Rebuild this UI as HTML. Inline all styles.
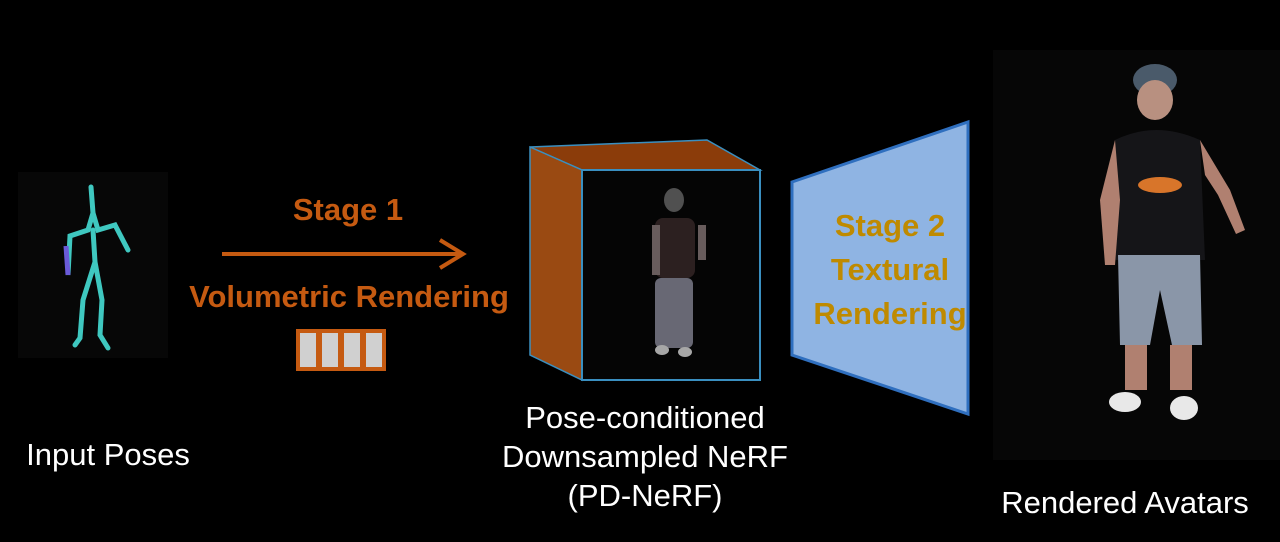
<!DOCTYPE html>
<html><head><style>
body{margin:0;width:1280px;height:542px;background:#000;overflow:hidden;position:relative;font-family:"Liberation Sans",sans-serif}
.t{position:absolute;color:#fff;font-size:31px;text-align:center;white-space:nowrap}
.o{position:absolute;color:#c55a11;font-weight:bold;font-size:31px;white-space:nowrap;text-align:center}
</style></head><body>
<svg width="1280" height="542" style="position:absolute;left:0;top:0">
<rect x="18" y="172" width="150" height="186" fill="#070707"/>
<g stroke="#3fc8c0" stroke-width="5" stroke-linecap="round" fill="none">
<path d="M91 187 L93 213 L88 230 L70 236 L68 275 L68 270"/>
<path d="M93 213 L98 230 L115 225 L128 250"/>
<path d="M93 230 L95 262 L83 300 L80 338 L75 345"/>
<path d="M95 262 L102 300 L100 335 L108 348"/>
</g>
<path d="M66 246 L68 275" stroke="#6a5ad8" stroke-width="5"/>
<line x1="222" y1="254" x2="460" y2="254" stroke="#c55a11" stroke-width="4"/>
<path d="M440 240 L463 254 L440 268" stroke="#c55a11" stroke-width="4" fill="none"/>
<g fill="#d0d0d0" stroke="#c55a11" stroke-width="4">
<rect x="298" y="331" width="20" height="38"/><rect x="320" y="331" width="20" height="38"/>
<rect x="342" y="331" width="20" height="38"/><rect x="364" y="331" width="20" height="38"/>
</g>
<polygon points="530,147 707,140 760,170 582,170" fill="#8b3c0a" stroke="#3a8fc0" stroke-width="1.5"/>
<polygon points="530,147 582,170 582,380 530,355" fill="#9a4a12" stroke="#3a8fc0" stroke-width="1.5"/>
<rect x="582" y="170" width="178" height="210" fill="#050505" stroke="#3a8fc0" stroke-width="2"/>
<g opacity="0.75">
<ellipse cx="674" cy="200" rx="10" ry="12" fill="#6a6a6a"/>
<rect x="655" y="218" width="40" height="60" rx="8" fill="#3a2a2a"/>
<rect x="655" y="278" width="38" height="70" rx="6" fill="#8a8a9a"/>
<rect x="652" y="225" width="8" height="50" fill="#8a7a7a"/>
<rect x="698" y="225" width="8" height="35" fill="#8a7a7a"/>
<ellipse cx="662" cy="350" rx="7" ry="5" fill="#ddd"/><ellipse cx="685" cy="352" rx="7" ry="5" fill="#ddd"/>
</g>
<polygon points="792,182 968,122 968,414 792,355" fill="#8fb4e3" stroke="#2f6fbf" stroke-width="3"/>
<rect x="993" y="50" width="287" height="410" fill="#060606"/>
<g>
<ellipse cx="1155" cy="80" rx="22" ry="16" fill="#4a5a6a"/>
<ellipse cx="1155" cy="100" rx="18" ry="20" fill="#b89080"/>
<path d="M1115 140 Q1155 120 1200 140 L1205 260 L1110 260 Z" fill="#151518"/>
<ellipse cx="1160" cy="185" rx="22" ry="8" fill="#d8752a"/>
<path d="M1115 140 L1100 200 L1105 265 L1115 265 L1120 200 Z" fill="#b08070"/>
<path d="M1200 140 L1230 190 L1245 230 L1236 234 L1218 195 L1205 175 Z" fill="#b08070"/>
<path d="M1118 255 L1200 255 L1202 345 L1172 345 L1160 290 L1150 345 L1120 345 Z" fill="#8a96a8"/>
<rect x="1125" y="345" width="22" height="45" fill="#b08070"/><rect x="1170" y="345" width="22" height="45" fill="#b08070"/>
<ellipse cx="1125" cy="402" rx="16" ry="10" fill="#e8e8e8"/><ellipse cx="1184" cy="408" rx="14" ry="12" fill="#e8e8e8"/>
</g>
</svg>
<div class="o" style="left:248px;top:192px;width:200px">Stage 1</div>
<div class="o" style="left:148px;top:279px;width:402px">Volumetric Rendering</div>
<div class="o" style="left:780px;top:204px;width:220px;color:#bf8a00;line-height:44px">Stage 2<br>Textural<br>Rendering</div>
<div class="t" style="left:8px;top:437px;width:200px">Input Poses</div>
<div class="t" style="left:495px;top:398px;width:300px;line-height:39px">Pose-conditioned<br>Downsampled NeRF<br>(PD-NeRF)</div>
<div class="t" style="left:975px;top:485px;width:300px">Rendered Avatars</div>
</body></html>
